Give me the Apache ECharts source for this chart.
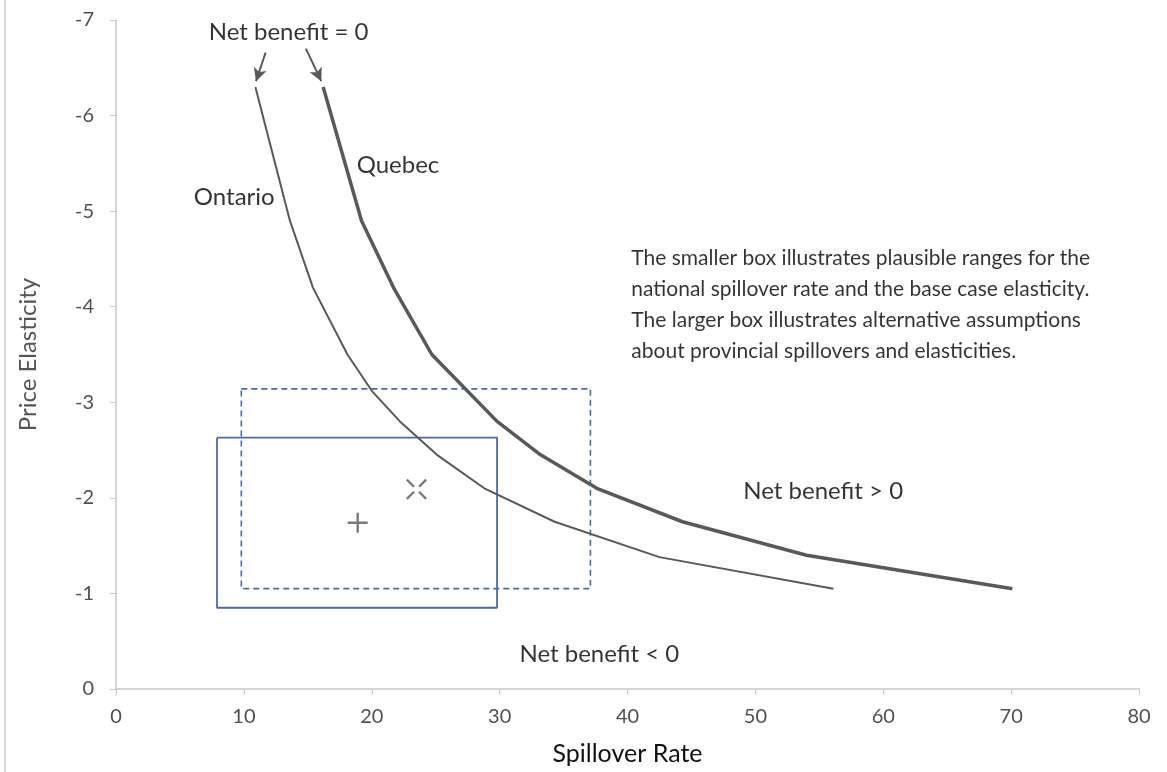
<!DOCTYPE html>
<html>
<head>
<meta charset="utf-8">
<script src="https://cdn.jsdelivr.net/npm/echarts@6/dist/echarts.min.js"></script>
<style>
html,body{margin:0;padding:0;background:#fff;}
#chart{width:1167px;height:772px;}
</style>
</head>
<body>
<div id="chart"></div>
<script>
// ---- data ----
const ontarioX = [10.9, 13.6, 15.4, 18.1, 20.0, 22.2, 25.1, 28.8, 34.3, 42.5, 56.1];
const ontarioY = [-6.3, -4.9, -4.2, -3.5, -3.12, -2.8, -2.45, -2.1, -1.75, -1.38, -1.05];
const quebecX = [16.2, 19.2, 21.7, 24.7, 29.8, 33.2, 37.6, 44.3, 54.0, 70.1];
const quebecY = [-6.3, -4.9, -4.2, -3.5, -2.8, -2.45, -2.1, -1.75, -1.4, -1.05];
const smallBoxX = [7.9, 29.8];
const smallBoxY = [-2.63, -0.85];
const largeBoxX = [9.8, 37.1];
const largeBoxY = [-3.14, -1.05];
const plusPoint = [18.9, -1.74];
const crossPoint = [23.5, -2.09];
const xTicks = [0, 10, 20, 30, 40, 50, 60, 70, 80];
const yTicks = [-7, -6, -5, -4, -3, -2, -1, 0];
const arrowOntario = [[11.7, -6.66], [10.95, -6.36]];
const arrowQuebec = [[14.85, -6.7], [16.05, -6.36]];
const textLabels = ['Net benefit = 0', 'Quebec', 'Ontario', 'Net benefit > 0', 'Net benefit < 0'];
const textPos = [[13.5, -6.87], [22.05, -5.48], [9.25, -5.15], [55.3, -2.07], [37.8, -0.36]];
const noteText = 'The smaller box illustrates plausible ranges for the\nnational spillover rate and the base case elasticity.\nThe larger box illustrates alternative assumptions\nabout provincial spillovers and elasticities.';
const notePos = [40.3, -4.67];

// ---- build ----
const zip = (xs, ys) => xs.map((x, i) => [x, ys[i]]);
const boxPoly = (bx, by) => [[bx[0], by[0]], [bx[1], by[0]], [bx[1], by[1]], [bx[0], by[1]], [bx[0], by[0]]];
const FONT = 'Lato';
const lineColor = '#595959';
const boxColor = '#4a6aa8';

const chart = echarts.init(document.getElementById('chart'), null, {renderer: 'canvas'});
chart.setOption({
  animation: false,
  backgroundColor: '#fff',
  textStyle: {fontFamily: FONT},
  grid: {left: 116, right: 28, top: 20, bottom: 83, containLabel: false},
  graphic: [{
    type: 'line', shape: {x1: 5, y1: 0, x2: 5, y2: 772},
    style: {stroke: '#d9d9d9', lineWidth: 2}
  }],
  xAxis: {
    type: 'value', min: 0, max: 80, interval: 10,
    axisLine: {onZero: false, lineStyle: {color: '#c8c8c8', width: 1.5}},
    axisTick: {show: true, length: 6, lineStyle: {color: '#c8c8c8'}},
    splitLine: {show: false},
    axisLabel: {color: '#505050', fontSize: 20, fontFamily: FONT, margin: 18},
    name: 'Spillover Rate', nameLocation: 'middle', nameGap: 52,
    nameTextStyle: {color: '#111', fontSize: 25, fontFamily: FONT}
  },
  yAxis: {
    type: 'value', min: -7, max: 0, interval: 1, inverse: true,
    axisLine: {show: true, onZero: false, lineStyle: {color: '#c8c8c8', width: 1.5}},
    axisTick: {show: true, length: 6, lineStyle: {color: '#c8c8c8'}},
    splitLine: {show: false},
    axisLabel: {color: '#505050', fontSize: 20, fontFamily: FONT, margin: 22},
    name: 'Price Elasticity', nameLocation: 'middle', nameGap: 76, nameRotate: 90,
    nameTextStyle: {color: '#555', fontSize: 24, fontFamily: FONT}
  },
  series: [
    {
      name: 'Large box', type: 'line', data: boxPoly(largeBoxX, largeBoxY),
      symbol: 'none', silent: true,
      lineStyle: {color: boxColor, width: 1.6, type: [6, 4]}
    },
    {
      name: 'Small box', type: 'line', data: boxPoly(smallBoxX, smallBoxY),
      symbol: 'none', silent: true,
      lineStyle: {color: boxColor, width: 1.8}
    },
    {
      name: 'Ontario', type: 'line', data: zip(ontarioX, ontarioY),
      symbol: 'none', silent: true,
      lineStyle: {color: lineColor, width: 2},
      markLine: {
        silent: true, symbol: ['none', 'arrow'], symbolSize: [10, 13],
        label: {show: false},
        lineStyle: {color: lineColor, width: 2, type: 'solid'},
        data: [
          [{coord: arrowOntario[0]}, {coord: arrowOntario[1]}],
          [{coord: arrowQuebec[0]}, {coord: arrowQuebec[1]}]
        ]
      }
    },
    {
      name: 'Quebec', type: 'line', data: zip(quebecX, quebecY),
      symbol: 'none', silent: true,
      lineStyle: {color: lineColor, width: 3.5}
    },
    {
      name: 'Base case', type: 'scatter', data: [plusPoint], silent: true,
      symbol: 'path://M0,8.8L20,8.8L20,11.2L0,11.2Z M8.8,0L11.2,0L11.2,20L8.8,20Z',
      symbolSize: 20, itemStyle: {color: lineColor}
    },
    {
      name: 'Alternative', type: 'scatter', data: [crossPoint], silent: true,
      symbol: 'path://M0,1.6L1.6,0L8.4,6.8L6.8,8.4Z M20,1.6L18.4,0L11.6,6.8L13.2,8.4Z M0,18.4L1.6,20L8.4,13.2L6.8,11.6Z M20,18.4L18.4,20L11.6,13.2L13.2,11.6Z',
      symbolSize: 21, itemStyle: {color: lineColor}
    },
    {
      name: 'Labels', type: 'scatter', silent: true, symbolSize: 0,
      data: textLabels.map((t, i) => ({value: textPos[i], name: t})),
      label: {
        show: true, position: 'inside', formatter: p => p.name,
        color: '#000', fontSize: 24, fontFamily: FONT
      }
    },
    {
      name: 'Note', type: 'scatter', silent: true, symbolSize: 0,
      data: [{value: notePos, name: noteText}],
      label: {
        show: true, position: 'inside', align: 'left', verticalAlign: 'top',
        formatter: p => p.name, color: '#000', fontSize: 21, lineHeight: 31, fontFamily: FONT
      }
    }
  ]
});
</script>
</body>
</html>
